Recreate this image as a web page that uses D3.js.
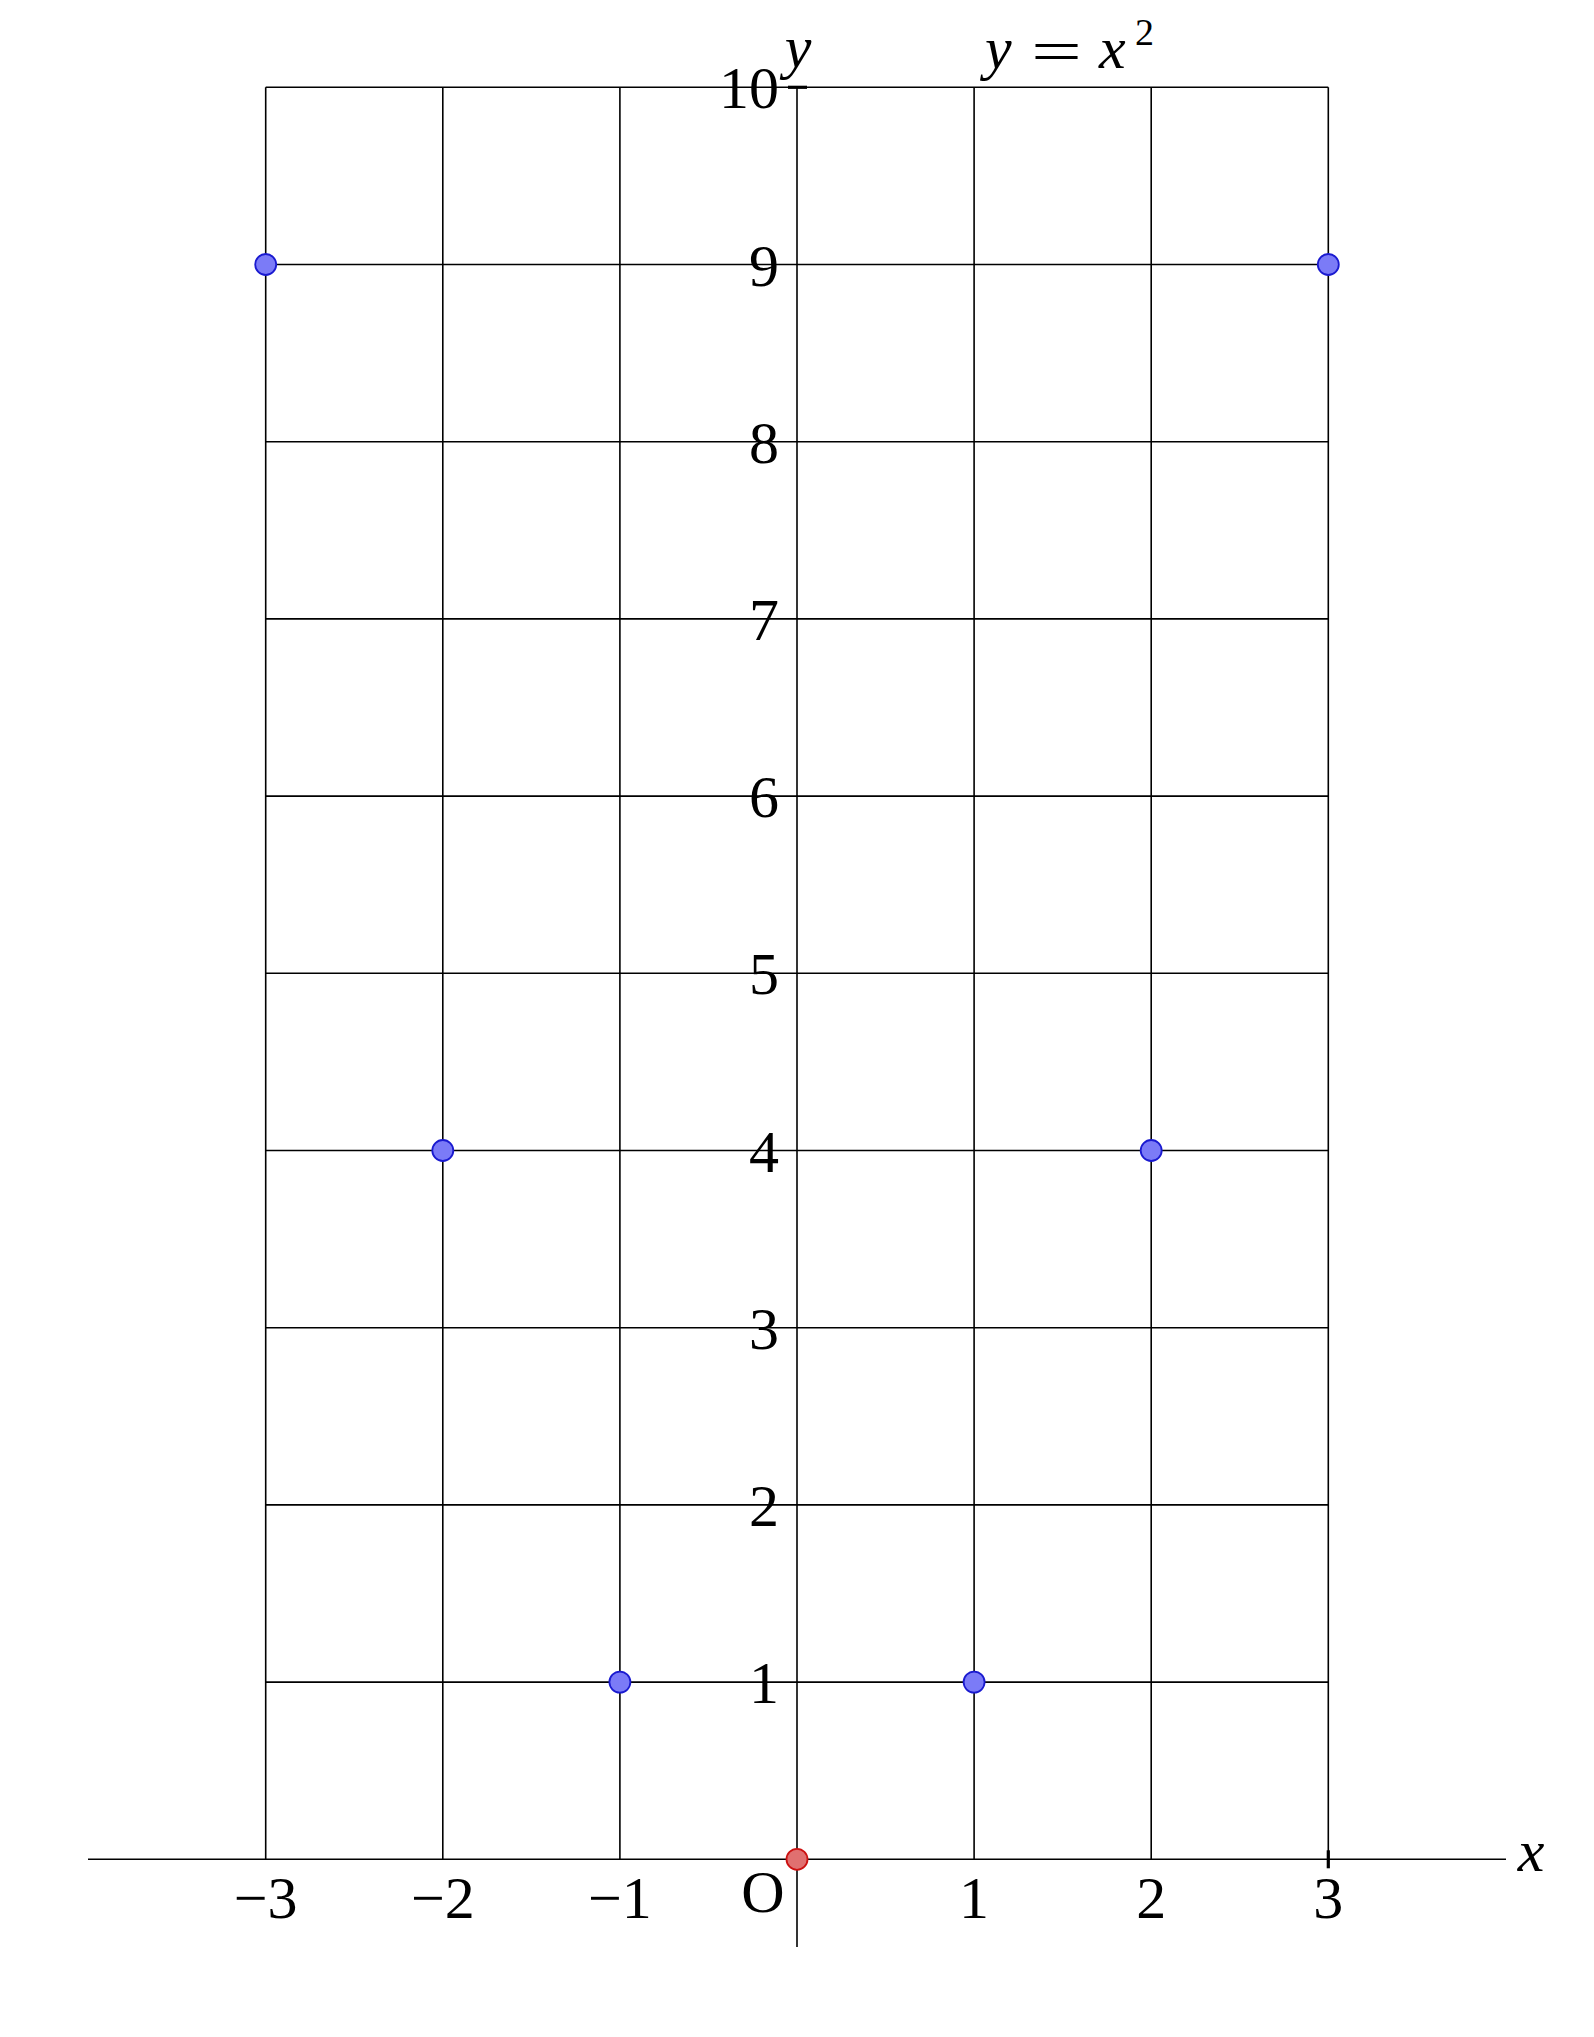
<!DOCTYPE html>
<html><head><meta charset="utf-8">
<script src="https://cdn.jsdelivr.net/npm/d3@7"></script>
<style>body{margin:0;background:#fff}svg{display:block}text{font-family:"Liberation Serif","DejaVu Serif",serif;fill:#000}</style>
</head><body>
<script>
const xValues = [-3, -2, -1, 0, 1, 2, 3];
const yValues = [9, 4, 1, 0, 1, 4, 9];
const xTicks = [-3, -2, -1, 1, 2, 3];
const yTicks = [1, 2, 3, 4, 5, 6, 7, 8, 9, 10];
const xTickLabels = ["−3", "−2", "−1", "1", "2", "3"];
const yTickLabels = ["1", "2", "3", "4", "5", "6", "7", "8", "9", "10"];

const W = 1594, H = 2037;
const svg = d3.select("body").append("svg").attr("width", W).attr("height", H);
const x = d3.scaleLinear().domain([-3, 3]).range([265.7, 1328.3]);
const y = d3.scaleLinear().domain([0, 10]).range([1859.3, 87.3]);
const sw = 1.6;
const fs = 60;

svg.append("g").selectAll("line").data(xTicks).join("line")
  .attr("x1", d => x(d)).attr("x2", d => x(d))
  .attr("y1", y(0)).attr("y2", y(10))
  .attr("stroke", "#000").attr("stroke-width", sw);
svg.append("g").selectAll("line").data(yTicks).join("line")
  .attr("x1", x(-3)).attr("x2", x(3))
  .attr("y1", d => y(d)).attr("y2", d => y(d))
  .attr("stroke", "#000").attr("stroke-width", sw);

svg.append("line").attr("x1", 88).attr("x2", 1506).attr("y1", y(0)).attr("y2", y(0))
  .attr("stroke", "#000").attr("stroke-width", sw);
svg.append("line").attr("x1", x(0)).attr("x2", x(0)).attr("y1", y(10)).attr("y2", 1947)
  .attr("stroke", "#000").attr("stroke-width", sw);
svg.append("line").attr("x1", x(0) - 9).attr("x2", x(0) + 10).attr("y1", y(10)).attr("y2", y(10))
  .attr("stroke", "#000").attr("stroke-width", 3.2);
svg.append("line").attr("x1", x(3)).attr("x2", x(3)).attr("y1", y(0) - 9).attr("y2", y(0) + 9)
  .attr("stroke", "#000").attr("stroke-width", 3.2);

svg.append("g").selectAll("text").data(xTicks).join("text")
  .attr("x", d => x(d)).attr("y", 1918)
  .attr("text-anchor", "middle").attr("font-size", fs)
  .text((d, i) => xTickLabels[i]);
svg.append("g").selectAll("text").data(yTicks).join("text")
  .attr("x", x(0) - 18).attr("y", d => y(d) + 21)
  .attr("text-anchor", "end").attr("font-size", fs)
  .text((d, i) => yTickLabels[i]);
svg.append("text").attr("x", 763).attr("y", 1912).attr("text-anchor", "middle")
  .attr("font-size", fs).text("O");
svg.append("text").attr("x", 1531).attr("y", 1871).attr("text-anchor", "middle")
  .attr("font-size", fs).attr("font-style", "italic").text("x");
svg.append("text").attr("x", 798).attr("y", 67).attr("text-anchor", "middle")
  .attr("font-size", fs).attr("font-style", "italic").text("y");

// title y = x²
svg.append("text").attr("x", 985).attr("y", 68).attr("font-size", fs)
  .attr("font-style", "italic").text("y");
svg.append("text").attr("x", 1031).attr("y", 71).attr("font-size", fs)
  .attr("textLength", 51).attr("lengthAdjust", "spacingAndGlyphs").text("=");
svg.append("text").attr("x", 1099).attr("y", 68).attr("font-size", fs)
  .attr("font-style", "italic").text("x");
svg.append("text").attr("x", 1135).attr("y", 45).attr("font-size", 38).text("2");

svg.append("g").selectAll("circle").data(xValues).join("circle")
  .attr("cx", d => x(d)).attr("cy", (d, i) => y(yValues[i]))
  .attr("r", 10.5)
  .attr("fill", d => d === 0 ? "#e07070" : "#7b7bf7")
  .attr("stroke", d => d === 0 ? "#cc1111" : "#1a1ad0")
  .attr("stroke-width", 1.8);
</script>
</body></html>
